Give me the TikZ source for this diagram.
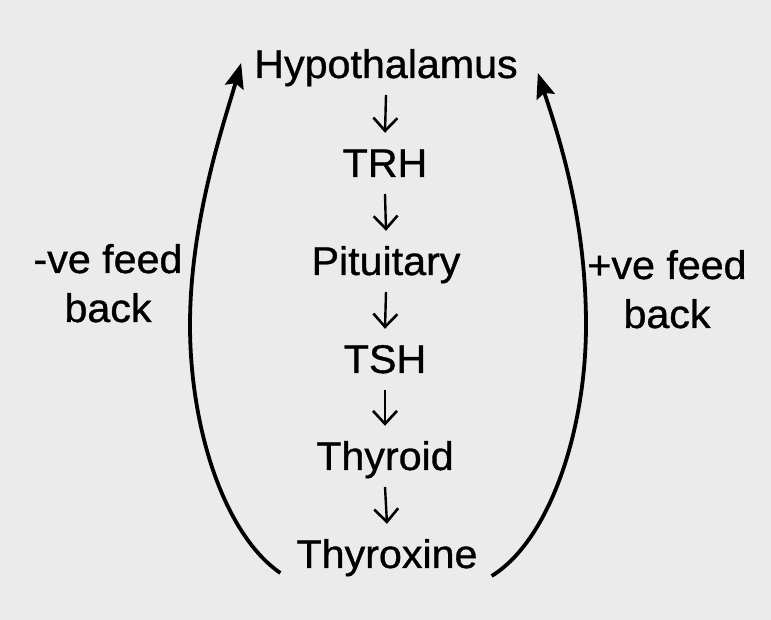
\documentclass[tikz,border=0pt]{standalone}
\usepackage{fontspec}
\setmainfont[FakeBold=0.9,FakeStretch=1.03]{Liberation Sans}
\usetikzlibrary{arrows.meta,calc}
\begin{document}
\begin{tikzpicture}[x=1pt,y=1pt,
  stage/.style={inner sep=0pt, anchor=base, font=\fontsize{40}{48}\selectfont, text height=29pt, text depth=9pt},
  fblabel/.style={inner sep=0pt, align=center, font=\fontsize{40}{49}\selectfont},
  smallarr/.style={line width=2.4pt, -{Straight Barb[length=13pt,width=24pt,line width=2.6pt]}},
  fb/.style={line width=3.8pt, -{Stealth[length=25pt,width=19pt,inset=4pt]}}]
\fill[fill={rgb,255:red,235;green,235;blue,235}] (0,0) rectangle (771,620);
\useasboundingbox (0,0) rectangle (771,620);
\node[stage] (hyp) at (386,542) {Hypothalamus};
\node[stage] (trh) at (385,443) {TRH};
\node[stage] (pit) at (386,345) {Pituitary};
\node[stage] (tsh) at (385,247) {TSH};
\node[stage] (thd) at (385,150) {Thyroid};
\node[stage] (thx) at (387,52) {Thyroxine};
\draw[smallarr] ([yshift=-17pt]hyp.base) -- ([yshift=15pt]trh.north);
\draw[smallarr] ([yshift=-17pt]trh.base) -- ([yshift=15pt]pit.north);
\draw[smallarr] ([yshift=-17pt]pit.base) -- ([yshift=15pt]tsh.north);
\draw[smallarr] ([yshift=-17pt]tsh.base) -- ([yshift=15pt]thd.north);
\draw[smallarr] ([yshift=-17pt]thd.base) -- ([yshift=15pt]thx.north);
\draw[fb] ([shift={(-16pt,-5pt)}]thx.base west) .. controls (225,85) and (190,190) .. (190,295)
  .. controls (190,400) and (225,500) .. ([shift={(-13pt,15pt)}]hyp.base west);
\draw[fb] ([shift={(14pt,-8pt)}]thx.base east) .. controls (550,80) and (586,190) .. (586,295)
  .. controls (586,400) and (560,480) .. ([shift={(20pt,5pt)}]hyp.base east);
\node[fblabel, anchor=base] (neg) at (108,298) {-ve feed\\back};
\node[fblabel, anchor=base] (pos) at (667,292) {+ve feed\\back};
\end{tikzpicture}
\end{document}
